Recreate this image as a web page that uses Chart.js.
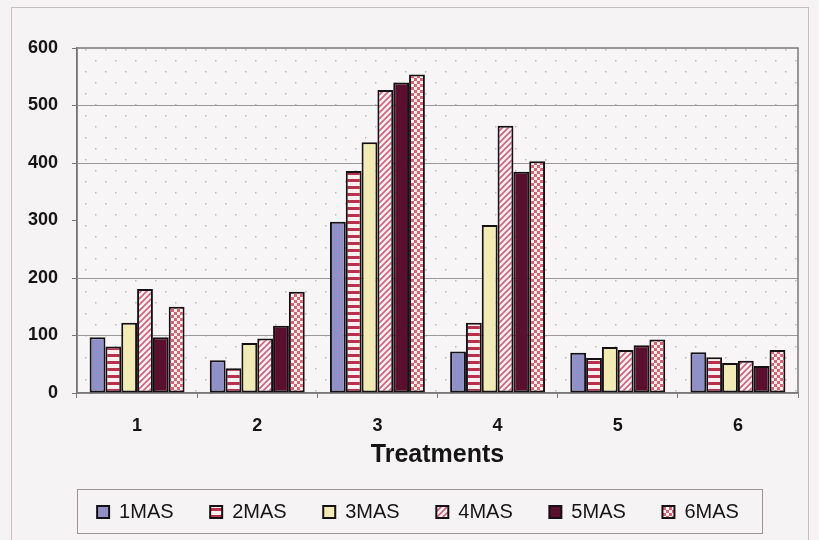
<!DOCTYPE html>
<html>
<head>
<meta charset="utf-8">
<script src="https://cdn.jsdelivr.net/npm/chart.js@4/dist/chart.umd.min.js"></script>
<style>
html,body{margin:0;padding:0;background:#f5f3f3;}
#wrap{width:819px;height:540px;position:relative;}
</style>
</head>
<body>
<div id="wrap"><canvas id="c" width="819" height="540"></canvas></div>
<script>
const categories = ['1', '2', '3', '4', '5', '6'];
const seriesNames = ['1MAS', '2MAS', '3MAS', '4MAS', '5MAS', '6MAS'];
const mas1 = [97, 57, 298, 72, 70, 71];
const mas2 = [81, 43, 386, 122, 61, 62];
const mas3 = [122, 87, 436, 292, 80, 52];
const mas4 = [181, 95, 527, 465, 75, 56];
const mas5 = [97, 117, 540, 385, 83, 47];
const mas6 = [150, 176, 554, 403, 93, 75];
const yTickValues = [0, 100, 200, 300, 400, 500, 600];
const xTitle = 'Treatments';

const canvas = document.getElementById('c');
const mainCtx = canvas.getContext('2d');

function makeTile(w, h, draw) {
  const t = document.createElement('canvas');
  t.width = w; t.height = h;
  draw(t.getContext('2d'), w, h);
  return mainCtx.createPattern(t, 'repeat');
}
// 2MAS: horizontal red stripes on white
const patHStripe = makeTile(8, 7, (g, w, h) => {
  g.fillStyle = '#fbeef0'; g.fillRect(0, 0, w, h);
  g.fillStyle = '#b8304a'; g.fillRect(0, 4, w, 3);
});
// 4MAS: diagonal stripes
const patDiag = makeTile(6, 6, (g, w, h) => {
  g.fillStyle = '#fbf0f2'; g.fillRect(0, 0, w, h);
  g.strokeStyle = '#d2607a'; g.lineWidth = 1.6;
  g.beginPath();
  g.moveTo(-1, 7); g.lineTo(7, -1);
  g.moveTo(-4, 4); g.lineTo(4, -4);
  g.moveTo(2, 10); g.lineTo(10, 2);
  g.stroke();
});
// 6MAS: checker
const patCheck = makeTile(6, 6, (g, w, h) => {
  g.fillStyle = '#fdf3f3'; g.fillRect(0, 0, w, h);
  g.fillStyle = '#e0606e';
  g.fillRect(0, 0, 3, 3); g.fillRect(3, 3, 3, 3);
});
// plot background dots
const patDots = makeTile(20, 22, (g, w, h) => {
  g.fillStyle = '#f7f5f5'; g.fillRect(0, 0, w, h);
  g.fillStyle = 'rgba(150,135,140,0.55)';
  g.fillRect(5, 5, 1.5, 1.5);
  g.fillRect(15, 16, 1.5, 1.5);
});

const fills = ['#9090c8', patHStripe, '#f2ecb4', patDiag, '#5a0f2e', patCheck];
const values = [mas1, mas2, mas3, mas4, mas5, mas6];

const bgPlugin = {
  id: 'bgPlugin',
  afterLayout(chart) {
    // nudge the legend row to the right, as in the reference
    if (chart.legend) { chart.legend.left += 28; }
  },
  beforeDraw(chart) {
    const ctx = chart.ctx, a = chart.chartArea;
    ctx.save();
    ctx.fillStyle = '#f5f3f3';
    ctx.fillRect(0, 0, chart.width, chart.height);
    ctx.strokeStyle = '#c4c0c0';
    ctx.lineWidth = 1;
    ctx.strokeRect(11.5, 7.5, 797, 560);
    ctx.fillStyle = patDots;
    ctx.fillRect(a.left, a.top, a.right - a.left, a.bottom - a.top);
    ctx.restore();
  },
  beforeDatasetsDraw(chart) {
    const ctx = chart.ctx, a = chart.chartArea;
    ctx.save();
    ctx.strokeStyle = '#7a7a7a';
    ctx.lineWidth = 1.5;
    ctx.strokeRect(a.left, a.top, a.right - a.left, a.bottom - a.top);
    ctx.restore();
  },
  afterDraw(chart) {
    const ctx = chart.ctx, lg = chart.legend;
    ctx.save();
    ctx.strokeStyle = '#9a9696';
    ctx.lineWidth = 1;
    ctx.strokeRect(77.5, Math.round(lg.top + 24) + 0.5, 685, 44);
    ctx.restore();
  }
};

new Chart(canvas, {
  type: 'bar',
  data: {
    labels: categories,
    datasets: seriesNames.map((n, i) => ({
      label: n,
      data: values[i],
      backgroundColor: fills[i],
      borderColor: '#141014',
      borderWidth: 2,
      borderSkipped: false,
      categoryPercentage: 0.79,
      barPercentage: 1.0
    }))
  },
  options: {
    responsive: false,
    animation: false,
    devicePixelRatio: 1,
    layout: { padding: { left: 10, right: 21, top: 48, bottom: 8 } },
    plugins: {
      tooltip: { enabled: false },
      legend: {
        position: 'bottom',
        labels: {
          boxWidth: 12,
          boxHeight: 12,
          padding: 36.6,
          color: '#151515',
          font: { family: "'Liberation Sans', Arial, sans-serif", size: 20 }
        }
      }
    },
    scales: {
      x: {
        grid: { display: true, drawOnChartArea: false, tickLength: 5, color: '#777', offset: true },
        border: { color: '#777', width: 1.5 },
        ticks: {
          padding: 17,
          color: '#151515',
          font: { family: "'Liberation Sans', Arial, sans-serif", size: 18, weight: 'bold' }
        },
        title: {
          display: true,
          text: xTitle,
          color: '#151515',
          padding: { top: 0, bottom: 0 },
          font: { family: "'Liberation Sans', Arial, sans-serif", size: 25, weight: 'bold', lineHeight: 0.84 }
        },
        afterFit(scale) { scale.height = 72.4; }
      },
      y: {
        min: 0,
        max: 600,
        afterBuildTicks(scale) { scale.ticks = yTickValues.map(v => ({ value: v })); },
        grid: {
          color: ctx => (ctx.tick && (ctx.tick.value === 300 || ctx.tick.value === 0 || ctx.tick.value === 600)) ? 'rgba(0,0,0,0)' : '#9a9898',
          tickColor: '#777',
          tickLength: 5,
          lineWidth: 1
        },
        border: { color: '#777', width: 1.5 },
        ticks: {
          padding: 14,
          color: '#151515',
          font: { family: "'Liberation Sans', Arial, sans-serif", size: 18, weight: 'bold' }
        },
        afterFit(scale) { scale.width = 67; }
      }
    }
  },
  plugins: [bgPlugin]
});
</script>
</body>
</html>
